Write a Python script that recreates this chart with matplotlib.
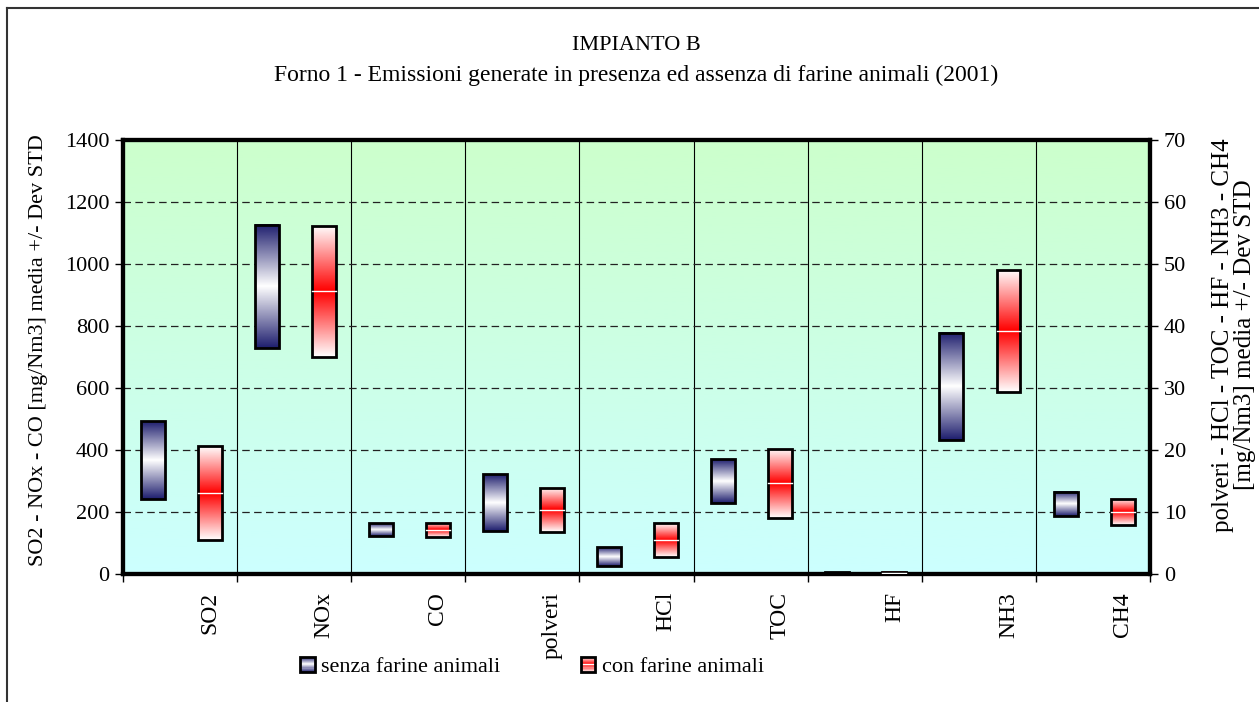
import numpy as np
import matplotlib
matplotlib.use("Agg")
import matplotlib.pyplot as plt
from matplotlib.patches import Rectangle
from matplotlib.lines import Line2D
from matplotlib.legend_handler import HandlerBase
from matplotlib.colors import LinearSegmentedColormap

# data: media +/- dev std, low / high ends of each floating bar
categories = ["SO2", "NOx", "CO", "polveri", "HCl", "TOC", "HF", "NH3", "CH4"]
on_right = [False, False, False, True, True, True, True, True, True]
senza_low = [242, 729, 123, 7.0, 1.3, 11.5, 0.05, 21.6, 9.3]
senza_high = [493, 1126, 164, 16.1, 4.35, 18.5, 0.25, 38.9, 13.2]
con_low = [110, 700, 118, 6.8, 2.8, 9.0, 0.10, 29.3, 7.9]
con_high = [413, 1123, 164, 13.9, 8.2, 20.2, 0.35, 49.0, 12.1]
left_ticks = [0, 200, 400, 600, 800, 1000, 1200, 1400]
right_ticks = [0, 10, 20, 30, 40, 50, 60, 70]

plt.rcParams['font.family'] = ['Liberation Serif', 'DejaVu Serif']

navy = "#1e1e6e"
blue_cmap = LinearSegmentedColormap.from_list("bl", ["white", navy])
red_cmap = LinearSegmentedColormap.from_list("rd", ["white", "#ff0000"])
t = np.linspace(0, 1, 200)
blue_prof = np.abs(2 * t - 1)
red_prof = 1 - np.abs(2 * t - 1)

fig = plt.figure(figsize=(12.59, 7.02), dpi=100)
ax = fig.add_axes([123/1259, 1 - 574/702, 1027/1259, 434/702])
ax2 = ax.twinx()

# plot background gradient
bg = LinearSegmentedColormap.from_list("bg", ["#ccffff", "#ccffcc"])
ax.imshow(t.reshape(-1, 1), cmap=bg, extent=(0, 1, 0, 1), transform=ax.transAxes,
          origin='lower', aspect='auto', zorder=0)

bw = 0.21
def draw_bar(a, xc, lo, hi, cmap, prof, mean_line):
    a.imshow(prof.reshape(-1, 1), cmap=cmap, vmin=0, vmax=1,
             extent=(xc - bw/2, xc + bw/2, lo, hi), origin='lower',
             aspect='auto', interpolation='bilinear', zorder=3)
    a.add_patch(Rectangle((xc - bw/2, lo), bw, hi - lo, fill=False,
                          edgecolor='black', lw=2, zorder=4))
    if mean_line:
        m = (lo + hi) / 2
        a.plot([xc - bw/2, xc + bw/2], [m, m], color='white', lw=1, zorder=4)

for i in range(len(categories)):
    a = ax2 if on_right[i] else ax
    draw_bar(a, i + 0.26, senza_low[i], senza_high[i], blue_cmap, blue_prof, False)
    draw_bar(a, i + 0.76, con_low[i], con_high[i], red_cmap, red_prof, True)

ax.set_xlim(0, len(categories))
ax.set_ylim(0, 1400)
ax2.set_ylim(0, 70)
ax.set_yticks(left_ticks)
ax2.set_yticks(right_ticks)

ax.set_xticks(np.arange(len(categories) + 1))
ax.set_xticklabels([])
ax.set_xticks(np.arange(len(categories)) + 0.76, minor=True)
ax.set_xticklabels(categories, minor=True, rotation=90, fontsize=17)
ax.tick_params(axis='x', which='minor', length=0, pad=13)
ax.tick_params(axis='x', which='major', length=6, width=1, direction='out')
ax.tick_params(axis='y', labelsize=16, length=6, width=1, pad=4)
ax2.tick_params(axis='y', labelsize=16, length=6, width=1, pad=4)

ax.set_axisbelow(True)
ax.grid(axis='y', linestyle=(0, (6, 3.5)), color='#222222', lw=0.9, zorder=1)
ax.grid(axis='x', which='major', linestyle='-', color='black', lw=0.8, zorder=1)

for a in (ax, ax2):
    for s in a.spines.values():
        s.set_linewidth(3)
        s.set_color('black')

# titles
fig.text(636/1259, 1 - 45/702, "IMPIANTO B", ha='center', va='center', fontsize=16)
fig.text(636/1259, 1 - 75/702,
         "Forno 1 - Emissioni generate in presenza ed assenza di farine animali (2001)",
         ha='center', va='center', fontsize=17)
fig.text(39/1259, 1 - 350/702, "SO2 - NOx - CO [mg/Nm3] media +/- Dev STD",
         rotation=90, ha='center', va='center', fontsize=16)
fig.text(1234/1259, 1 - 335/702,
         "polveri - HCl - TOC - HF - NH3 - CH4\n[mg/Nm3] media +/- Dev STD",
         rotation=90, ha='center', va='center', fontsize=18, multialignment='center',
         linespacing=0.95)


class GradHandler(HandlerBase):
    def __init__(self, cmap, prof, mean_line):
        super().__init__()
        self.cmap, self.prof, self.mean_line = cmap, prof, mean_line

    def create_artists(self, legend, orig_handle, xdescent, ydescent, width,
                       height, fontsize, trans):
        x0, y0 = -xdescent, -ydescent
        n = 14
        arts = []
        for k in range(n):
            v = self.prof[int((k + 0.5) / n * (len(self.prof) - 1))]
            arts.append(Rectangle((x0, y0 + k * height / n), width, height / n,
                                  facecolor=self.cmap(v), edgecolor='none',
                                  transform=trans))
        if self.mean_line:
            arts.append(Line2D([x0, x0 + width], [y0 + height/2] * 2,
                               color='white', lw=1, transform=trans))
        arts.append(Rectangle((x0, y0), width, height, fill=False,
                              edgecolor='black', lw=2, transform=trans))
        return arts


h1 = Rectangle((0, 0), 1, 1)
h2 = Rectangle((0, 0), 1, 1)
fig.legend([h1, h2], ["senza farine animali", "con farine animali"],
           handler_map={h1: GradHandler(blue_cmap, blue_prof, False),
                        h2: GradHandler(red_cmap, red_prof, True)},
           loc='center', bbox_to_anchor=(532/1259, 1 - 667/702), ncol=2,
           frameon=False, fontsize=16, handlelength=0.65, handleheight=0.65,
           handletextpad=0.3, columnspacing=3.6)

# outer frame
fig.add_artist(Line2D([7/1259, 7/1259], [0, 1 - 8/702], color='#333333', lw=1.5))
fig.add_artist(Line2D([7/1259, 1], [1 - 8/702, 1 - 8/702], color='#333333', lw=1.5))

fig.savefig("out.png", dpi=100)
